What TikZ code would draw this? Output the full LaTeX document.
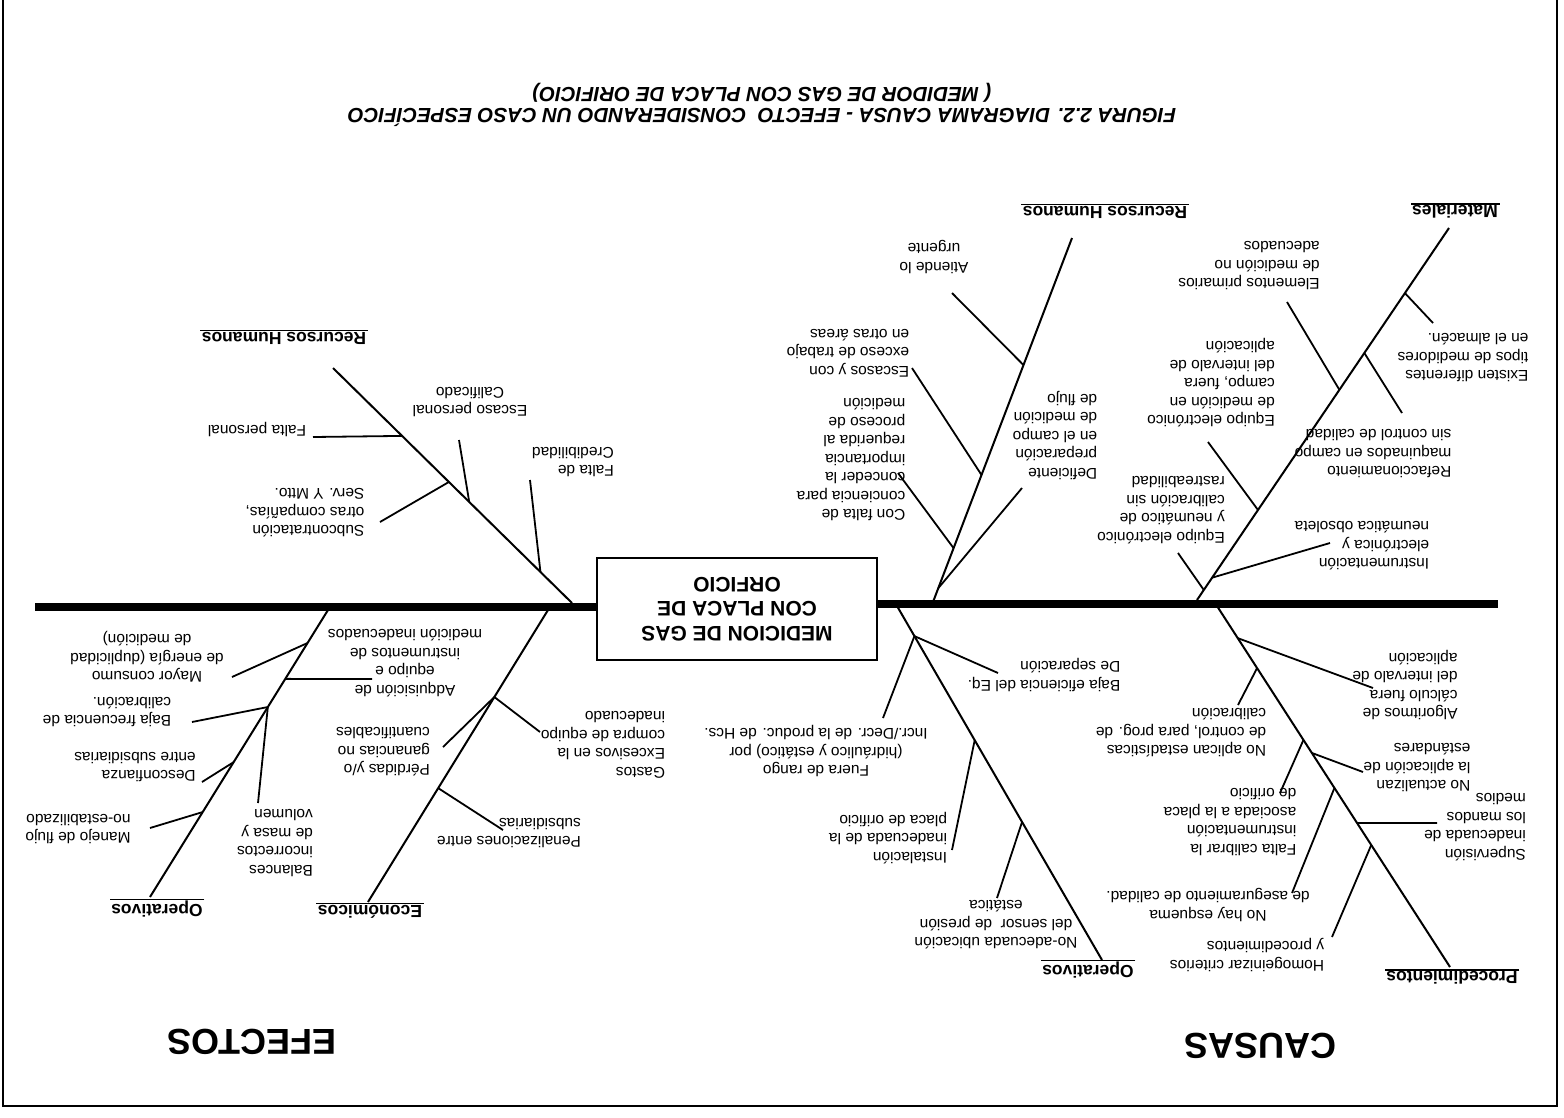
\documentclass[tikz,border=0pt]{standalone}
\usepackage{fontspec}
\setmainfont{Liberation Sans}
\usetikzlibrary{calc}
\begin{document}
\begin{tikzpicture}[x=1pt,y=-1pt,
  every node/.style={rotate=180, inner sep=0pt},
  txt/.style={font=\fontsize{15.5}{18.5}\selectfont, align=left},
  txtc/.style={txt, align=center},
  cat/.style={font=\fontsize{17.5}{20}\selectfont\bfseries, inner sep=1.5pt},
  big/.style={font=\fontsize{36}{40}\selectfont\bfseries},
  ttl/.style={font=\fontsize{20.5}{24}\selectfont\bfseries\itshape},
  effbox/.style={draw, line width=1.8pt, minimum width=280pt, minimum height=102pt,
    font=\fontsize{21}{24.5}\selectfont\bfseries, align=center},
  spine/.style={line width=8pt},
  bone/.style={line width=2pt},
  twig/.style={line width=1.8pt},
  rule/.style={line width=1.3pt},
  frame/.style={line width=2pt}]
\useasboundingbox (0,0) rectangle (1564,1117);

% frame
\coordinate (f1) at (3,0); \coordinate (f2) at (3,1106);
\coordinate (f3) at (1557,1106); \coordinate (f4) at (1557,0);
\draw[frame] (f1) -- (f2) -- (f3) -- (f4);

% title
\node[ttl] (t1) at (762,117) {FIGURA 2.2. DIAGRAMA CAUSA - EFECTO\ \ CONSIDERANDO UN CASO ESPECÍFICO};
\node[ttl] (t2) at (762,93) {( MEDIDOR DE GAS CON PLACA DE ORIFICIO)};

% effect box and spine
\node[effbox] (eff) at (737,609) {MEDICION DE GAS\\CON PLACA DE\\ORFICIO};
\coordinate (sL) at (35,607);
\coordinate (sR) at (1498,604);
\draw[spine] (sL) -- (eff.east |- sL);
\draw[spine] (eff.west |- sR) -- (sR);

% side captions
\node[big] (efectos) at (252,1042) {EFECTOS};
\node[big] (causas) at (1260,1046) {CAUSAS};

% ---------- Materiales ----------
\coordinate (mA) at (1197,600); \coordinate (mB) at (1449,228);
\draw[bone] (mA) -- (mB);
\node[cat] (matl) at (1455,212) {Materiales};
\draw[rule] (matl.south west) -- (matl.south east);
\path (mA) -- (mB) coordinate[pos=0.027] (m1) coordinate[pos=0.06] (m2)
  coordinate[pos=0.242] (m3) coordinate[pos=0.565] (m4)
  coordinate[pos=0.664] (m5) coordinate[pos=0.825] (m6);
\coordinate (m1e) at (1178,553); \coordinate (m2e) at (1330,543);
\coordinate (m3e) at (1208,442); \coordinate (m4e) at (1287,302);
\coordinate (m5e) at (1402,413); \coordinate (m6e) at (1433,323);
\foreach \i in {1,...,6} {\draw[twig] (m\i) -- (m\i e);}
\node[txt] (eqn) at (1161,510) {Equipo electrónico\\y neumático de\\calibración sin\\rastreabilidad};
\node[txt] (ins) at (1362,546) {Instrumentación\\electrónica y\\neumática obsoleta};
\node[txt] (eqm) at (1211,383) {Equipo electrónico\\de medición en\\campo, fuera\\del intervalo de\\aplicación};
\node[txt] (elem) at (1249,266) {Elementos primarios\\de medición no\\adecuados};
\node[txt] (ref) at (1373,454) {Refaccionamiento\\maquinados en campo\\sin control de calidad};
\node[txt] (exi) at (1463,358) {Existen diferentes\\tipos de medidores\\en el almacén.};

% ---------- Recursos Humanos (causas) ----------
\coordinate (rA) at (933,602); \coordinate (rB) at (1072,238);
\draw[bone] (rA) -- (rB);
\node[cat] (rhR) at (1105,212) {Recursos Humanos};
\draw[rule] (rhR.south west) -- (rhR.south east);
\path (rA) -- (rB) coordinate[pos=0.038] (r1) coordinate[pos=0.148] (r2)
  coordinate[pos=0.349] (r3) coordinate[pos=0.651] (r4);
\coordinate (r1e) at (1022,488); \coordinate (r2e) at (898,473);
\coordinate (r3e) at (912,368); \coordinate (r4e) at (952,293);
\foreach \i in {1,...,4} {\draw[twig] (r\i) -- (r\i e);}
\node[txt] (def) at (1055,435) {Deficiente\\preparación\\en el campo\\de medición\\de flujo};
\node[txt] (conf) at (851,460) {Con falta de\\conciencia para\\conceder la\\importancia\\requerida al\\proceso de\\medición};
\node[txt] (esc) at (848,353) {Escasos y con\\exceso de trabajo\\en otras áreas};
\node[txtc] (ati) at (934,257) {Atiende lo\\urgente};

% ---------- Recursos Humanos (efectos) ----------
\coordinate (lA) at (572,603); \coordinate (lB) at (333,368);
\draw[bone] (lA) -- (lB);
\node[cat] (rhL) at (284,338) {Recursos Humanos};
\draw[rule] (rhL.south west) -- (rhL.south east);
\path (lA) -- (lB) coordinate[pos=0.132] (l1) coordinate[pos=0.43] (l2)
  coordinate[pos=0.515] (l3) coordinate[pos=0.711] (l4);
\coordinate (l1e) at (530,480); \coordinate (l2e) at (459,440);
\coordinate (l3e) at (380,522); \coordinate (l4e) at (313,437);
\foreach \i in {1,...,4} {\draw[twig] (l\i) -- (l\i e);}
\node[txt] (fcr) at (573,462) {Falta de\\Credibilidad};
\node[txtc] (escp) at (470,402) {Escaso personal\\Calificado};
\node[txt] (sub) at (305,513) {Subcontratación\\otras compañías,\\Serv. Y Mtto.};
\node[txt] (fp) at (257,430) {Falta personal};

% ---------- Operativos (efectos) ----------
\coordinate (oA) at (328,610); \coordinate (oB) at (150,897);
\draw[bone] (oA) -- (oB);
\node[cat] (opL) at (157,909) {Operativos};
\draw[rule] (opL.south west) -- (opL.south east);
\path (oA) -- (oB) coordinate[pos=0.115] (o1) coordinate[pos=0.24] (o2)
  coordinate[pos=0.338] (o3) coordinate[pos=0.53] (o4) coordinate[pos=0.704] (o5);
\coordinate (o1e) at (232,677); \coordinate (o2e) at (372,679);
\coordinate (o3e) at (192,722); \coordinate (o3f) at (258,803);
\coordinate (o4e) at (202,782); \coordinate (o5e) at (150,828);
\draw[twig] (o1) -- (o1e);
\draw[twig] (o2) -- (o2e);
\draw[twig] (o3) -- (o3e);
\draw[twig] (o3) -- (o3f);
\draw[twig] (o4) -- (o4e);
\draw[twig] (o5) -- (o5e);
\node[txtc] (may) at (147,657) {Mayor consumo\\de energía (duplicidad\\de medición)};
\node[txtc] (adq) at (405,663) {Adquisición de\\equipo e\\instrumentos de\\medición inadecuados};
\node[txt] (baj) at (107,712) {Baja frecuencia de\\calibración.};
\node[txt] (bal) at (275,843) {Balances\\incorrectos\\de masa y\\volumen};
\node[txt] (desc) at (135,767) {Desconfianza\\entre subsidiarias};
\node[txt] (man) at (78,829) {Manejo de flujo\\no-estabilizado};

% ---------- Económicos ----------
\coordinate (eA) at (548,610); \coordinate (eB) at (368,902);
\draw[bone] (eA) -- (eB);
\node[cat] (eco) at (370,912) {Económicos};
\draw[rule] (eco.south west) -- (eco.south east);
\path (eA) -- (eB) coordinate[pos=0.298] (e1) coordinate[pos=0.61] (e2);
\coordinate (e1e) at (540,732); \coordinate (e1f) at (443,747);
\coordinate (e2e) at (503,830);
\draw[twig] (e1) -- (e1e);
\draw[twig] (e1) -- (e1f);
\draw[twig] (e2) -- (e2e);
\node[txt] (gas) at (603,745) {Gastos\\Excesivos en la\\compra de equipo\\inadecuado};
\node[txt] (per) at (383,752) {Pérdidas y/o\\ganancias no\\cuantificables};
\node[txt] (pen) at (509,833) {Penalizaciones entre\\subsidiarias};

% ---------- Operativos (causas) ----------
\coordinate (qA) at (897,606); \coordinate (qB) at (1102,960);
\draw[bone] (qA) -- (qB);
\node[cat] (opR) at (1088,970) {Operativos};
\draw[rule] (opR.south west) -- (opR.south east);
\path (qA) -- (qB) coordinate[pos=0.085] (q1)
  coordinate[pos=0.379] (q2) coordinate[pos=0.61] (q3);
\coordinate (q1e) at (998,673); \coordinate (q1f) at (883,718);
\coordinate (q2e) at (952,850); \coordinate (q3e) at (997,898);
\draw[twig] (q1) -- (q1e);
\draw[twig] (q1) -- (q1f);
\draw[twig] (q2) -- (q2e);
\draw[twig] (q3) -- (q3e);
\node[txt] (bef) at (1044,675) {Baja eficiencia del Eq.\\De separación};
\node[txtc] (fue) at (816,751) {Fuera de rango\\(hidráulico y estático) por\\Incr./Decr. de la produc. de Hcs.};
\node[txt] (ins2) at (888,838) {Instalación\\inadecuada de la\\placa de orificio};
\node[txtc] (noa) at (996,925) {No-adecuada ubicación\\del sensor\ \ de presión\\estática};

% ---------- Procedimientos ----------
\coordinate (pA) at (1217,606); \coordinate (pB) at (1450,967);
\draw[bone] (pA) -- (pB);
\node[cat] (proc) at (1452,978) {Procedimientos};
\draw[rule] (proc.south west) -- (proc.south east);
\path (pA) -- (pB) coordinate[pos=0.089] (p1) coordinate[pos=0.172] (p2)
  coordinate[pos=0.371] (p3) coordinate[pos=0.407] (p4)
  coordinate[pos=0.504] (p5) coordinate[pos=0.601] (p6) coordinate[pos=0.662] (p7);
\coordinate (p1e) at (1373,688); \coordinate (p2e) at (1238,705);
\coordinate (p3e) at (1280,793); \coordinate (p4e) at (1363,772);
\coordinate (p5e) at (1292,893); \coordinate (p6e) at (1437,823);
\coordinate (p7e) at (1332,937);
\foreach \i in {1,...,7} {\draw[twig] (p\i) -- (p\i e);}
\node[txt] (alg) at (1405,685) {Algoritmos de\\cálculo fuera\\del intervalo de\\aplicación};
\node[txt] (noap) at (1181,733) {No aplican estadísticas\\de control, para prog. de\\calibración};
\node[txt] (fcal) at (1230,822) {Falta calibrar la\\instrumentación\\asociada a la placa\\de orificio};
\node[txt] (noac) at (1417,768) {No actualizan\\la aplicación de\\estándares};
\node[txtc] (nhe) at (1208,905) {No hay esquema\\de aseguramiento de calidad.};
\node[txt] (sup) at (1475,827) {Supervisión\\inadecuada de\\los mandos\\medios};
\node[txt] (hom) at (1247,955) {Homogeinizar criterios\\y procedimientos};
\end{tikzpicture}
\end{document}
